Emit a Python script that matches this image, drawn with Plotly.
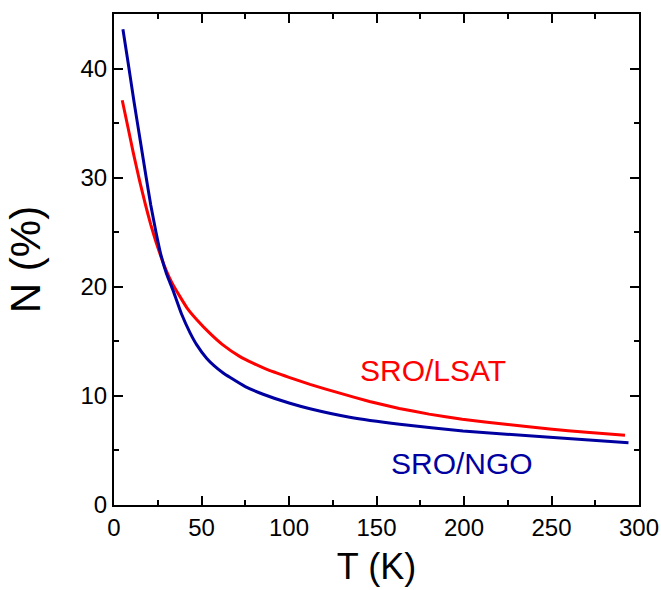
import plotly.graph_objects as go

# SRO/LSAT (red)
T_lsat = [4.7, 8, 11, 14.5, 18, 21, 24, 27.2, 30.1, 33, 37.7, 42, 47.2, 55, 62, 72, 80, 87,
          100, 112, 129, 146, 163, 180, 199, 225, 249, 270, 292]
N_lsat = [37.1, 34.6, 32.3, 29.8, 27.5, 25.7, 24.1, 22.6, 21.4, 20.4, 19.1, 18.0, 17.0, 15.7, 14.7, 13.6, 12.95, 12.45,
          11.7, 11.05, 10.25, 9.48, 8.85, 8.33, 7.85, 7.38, 6.97, 6.66, 6.39]

# SRO/NGO (blue)
T_ngo = [5.1, 8, 11.3, 15, 18.3, 21, 24, 27, 30, 33.9, 38.6, 43.4, 47.2, 52.9, 57, 62.4, 66.2, 75,
         85.2, 100.5, 112, 134.7, 163.2, 199.4, 249, 294]
N_ngo = [43.6, 40.6, 37.1, 33.4, 30.1, 27.5, 25.0, 22.8, 21.2, 19.6, 17.5, 15.8, 14.7, 13.45, 12.8, 12.1, 11.7, 10.85,
         10.15, 9.32, 8.82, 8.04, 7.4, 6.78, 6.2, 5.71]

labels = ["SRO/LSAT", "SRO/NGO"]
label_T = [182, 199]
label_N = [12.3, 3.8]
colors = ["#FF0000", "#0000A0"]

FONT = "Liberation Sans, Arial, sans-serif"

fig = go.Figure()
fig.add_trace(go.Scatter(x=T_lsat, y=N_lsat, mode="lines", name=labels[0],
                         line=dict(color=colors[0], width=3, shape="spline", smoothing=0.3)))
fig.add_trace(go.Scatter(x=T_ngo, y=N_ngo, mode="lines", name=labels[1],
                         line=dict(color=colors[1], width=3, shape="spline", smoothing=0.3)))

for lab, tx, ny, c in zip(labels, label_T, label_N, colors):
    fig.add_annotation(x=tx, y=ny, text=lab, showarrow=False, xanchor="center", yanchor="middle",
                       font=dict(family=FONT, size=30, color=c))

axis_common = dict(showline=True, linecolor="black", linewidth=2, mirror="ticks",
                   ticks="inside", ticklen=9, tickwidth=2, tickcolor="black",
                   showgrid=False, zeroline=False, automargin=False,
                   tickfont=dict(family=FONT, size=24, color="black"))

fig.update_xaxes(range=[0, 300], dtick=50, tick0=0,
                 minor=dict(ticks="inside", ticklen=5, tickwidth=2, tickcolor="black", dtick=25),
                 title=dict(text="T (K)", font=dict(family=FONT, size=36, color="black"), standoff=14),
                 **axis_common)
fig.update_yaxes(range=[0, 45], dtick=10, tick0=0,
                 minor=dict(ticks="inside", ticklen=5, tickwidth=2, tickcolor="black", dtick=5),
                 title=dict(text="N (%)", font=dict(family=FONT, size=42, color="black"), standoff=27),
                 **axis_common)

fig.update_layout(width=661, height=590, margin=dict(l=114, r=22, t=14, b=85),
                  plot_bgcolor="white", paper_bgcolor="white", showlegend=False)

fig.write_html("out.html", config={"displayModeBar": False},
               post_script="document.body.style.margin='0';document.body.style.overflow='hidden';")
